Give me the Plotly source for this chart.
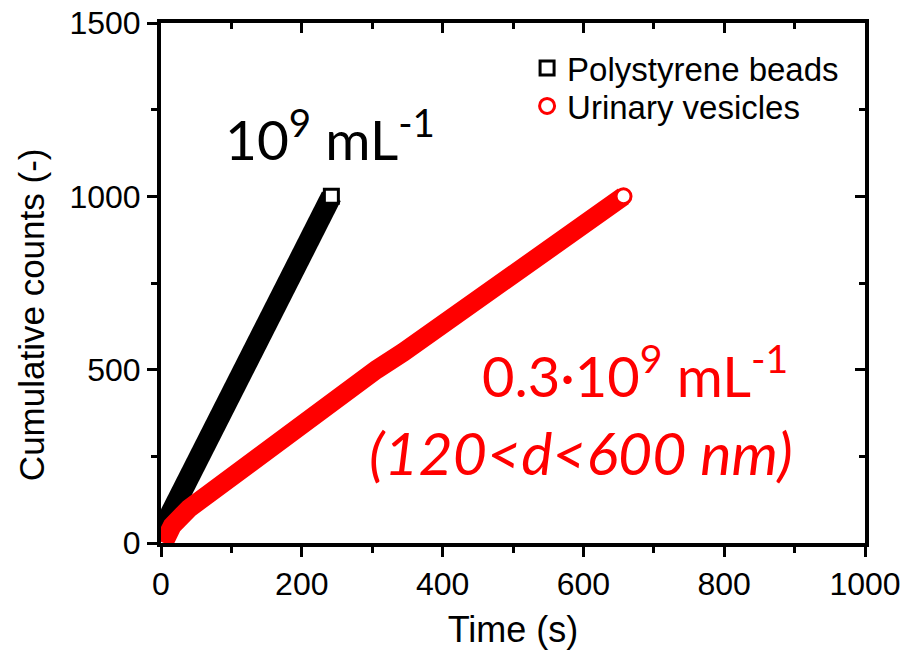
import plotly.graph_objects as go

# Data
black_t = [0, 5, 20, 32, 45, 57, 69, 82, 94, 106, 118, 131, 143, 155, 168, 180, 192, 204, 217, 229, 242]
black_c = [30, 50, 100, 150, 200, 250, 300, 350, 400, 450, 500, 550, 600, 650, 700, 750, 800, 850, 900, 950, 1000]

red_t = [4, 16, 40, 72, 104, 137, 170, 204, 237, 268, 306, 344, 379, 414, 448, 483, 518, 553, 588, 622, 657]
red_c = [0, 50, 100, 150, 200, 250, 300, 350, 400, 450, 500, 550, 600, 650, 700, 750, 800, 850, 900, 950, 1000]

x_ticks = [0, 200, 400, 600, 800, 1000]
y_ticks = [0, 500, 1000, 1500]

AX_FONT = "Liberation Sans, Arial, sans-serif"
ANN_FONT = "Lato, Carlito, sans-serif"

fig = go.Figure()

# black band
fig.add_trace(go.Scatter(x=black_t, y=black_c, mode="lines",
                         line=dict(color="#000000", width=21),
                         showlegend=False, hoverinfo="skip"))
fig.add_trace(go.Scatter(x=black_t[-1:], y=black_c[-1:], mode="markers",
                         name="Polystyrene beads", legend="legend",
                         marker=dict(symbol="square", size=14, color="white",
                                     line=dict(color="#000000", width=3))))
# red band
fig.add_trace(go.Scatter(x=red_t, y=red_c, mode="lines",
                         line=dict(color="#FF0000", width=19),
                         showlegend=False, hoverinfo="skip"))
fig.add_trace(go.Scatter(x=red_t[-1:], y=red_c[-1:], mode="markers",
                         name="Urinary vesicles", legend="legend2",
                         marker=dict(symbol="circle", size=15, color="white",
                                     line=dict(color="#FF0000", width=3))))
# overlay axes for inward mirrored ticks (no data)
fig.add_trace(go.Scatter(x=[], y=[], xaxis="x2", yaxis="y2", showlegend=False))

axis_common = dict(showline=True, linecolor="black", linewidth=4,
                   showgrid=False, zeroline=False, automargin=False)

legend_common = dict(xanchor="left", yanchor="middle", bgcolor="rgba(0,0,0,0)",
                     font=dict(family=AX_FONT, size=33, color="black"))

fig.update_layout(
    width=918, height=653,
    margin=dict(l=161, r=53, t=23, b=110),
    plot_bgcolor="white", paper_bgcolor="white",
    xaxis=dict(range=[0, 1000], tickvals=x_ticks, ticks="outside", ticklen=10,
               tickwidth=3, tickcolor="black",
               tickfont=dict(family=AX_FONT, size=32, color="black"),
               minor=dict(tick0=0, dtick=100, ticks="outside", ticklen=6,
                          tickwidth=3, tickcolor="black"),
               title=dict(text="Time (s)", font=dict(family=AX_FONT, size=36, color="black"),
                          standoff=16),
               **axis_common),
    yaxis=dict(range=[0, 1500], tickvals=y_ticks, ticks="outside", ticklen=10,
               tickwidth=3, tickcolor="black",
               tickfont=dict(family=AX_FONT, size=32, color="black"),
               minor=dict(tick0=0, dtick=250, ticks="outside", ticklen=6,
                          tickwidth=3, tickcolor="black"),
               **axis_common),
    xaxis2=dict(range=[0, 1000], overlaying="x", side="top", tickvals=x_ticks,
                ticks="inside", ticklen=10, tickwidth=3, tickcolor="black",
                showticklabels=False,
                minor=dict(tick0=0, dtick=100, ticks="inside", ticklen=6,
                           tickwidth=3, tickcolor="black"),
                **axis_common),
    yaxis2=dict(range=[0, 1500], overlaying="y", side="right", tickvals=y_ticks,
                ticks="inside", ticklen=10, tickwidth=3, tickcolor="black",
                showticklabels=False,
                minor=dict(tick0=0, dtick=250, ticks="inside", ticklen=6,
                           tickwidth=3, tickcolor="black"),
                **axis_common),
    legend=dict(x=0.52, y=0.9135, **legend_common),
    legend2=dict(x=0.52, y=0.8404, **legend_common),
    showlegend=True,
)

# y-axis title (placed slightly below the axis centre, as in the reference)
fig.add_annotation(x=-0.183, y=0.4385, xref="paper", yref="paper", showarrow=False,
                   text="Cumulative counts (-)", textangle=-90,
                   font=dict(family=AX_FONT, size=35, color="black"),
                   xanchor="center", yanchor="middle")

fig.add_annotation(x=240, y=1176, xref="x", yref="y", showarrow=False,
                   text="10<sup>9</sup> mL<sup>-1</sup>",
                   font=dict(family=ANN_FONT, size=55, color="black"),
                   xanchor="center", yanchor="middle")
fig.add_annotation(x=893, y=495, xref="x", yref="y", showarrow=False,
                   text="0.3·10<sup>9</sup> mL<sup>-1</sup>",
                   font=dict(family=ANN_FONT, size=56, color="#FF0000"),
                   xanchor="right", yanchor="middle")
fig.add_annotation(x=900, y=262, xref="x", yref="y", showarrow=False,
                   text="<i>(120&lt;d&lt;600 nm)</i>",
                   font=dict(family=ANN_FONT, size=59, color="#FF0000"),
                   xanchor="right", yanchor="middle")

fig.write_html("out.html")
